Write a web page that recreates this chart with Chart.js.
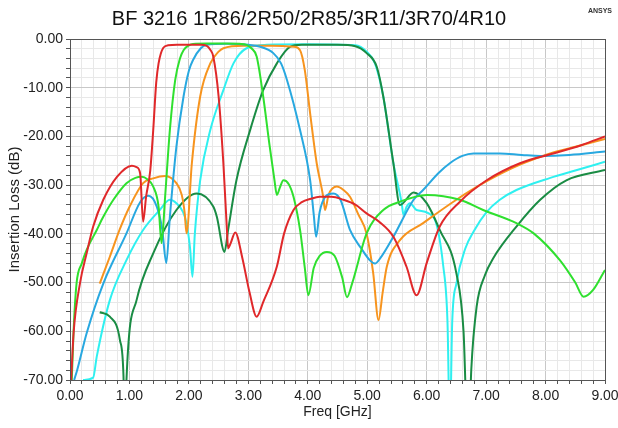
<!DOCTYPE html>
<html>
<head>
<meta charset="utf-8">
<script src="https://cdn.jsdelivr.net/npm/chart.js@4"></script>
<style>
  html, body { margin: 0; padding: 0; background: #fff; }
  #wrap { width: 618px; height: 428px; position: relative; }
</style>
</head>
<body>
<div id="wrap"><canvas id="chart"></canvas></div>
<script>
// insertion loss traces (GHz / dB)
const redFreq = [0.02, 0.06, 0.17, 0.28, 0.39, 0.56, 0.79, 1.04, 1.12, 1.18, 1.23, 1.28, 1.35, 1.40, 1.45, 1.49, 1.57, 1.65, 1.8, 2.0, 2.2, 2.3, 2.36, 2.41, 2.5, 2.58, 2.64, 2.66, 2.7, 2.78, 2.9, 3.02, 3.14, 3.25, 3.48, 3.6, 3.76, 3.9, 4.05, 4.2, 4.4, 4.6, 4.8, 4.99, 5.2, 5.44, 5.66, 5.83, 6.0, 6.22, 6.56, 7.01, 7.57, 8.13, 8.6, 9.0];
const redLoss = [-70, -60.4, -50, -44, -38.5, -33, -28.3, -26, -26.3, -27.6, -37.5, -32.4, -27, -18.7, -9, -5, -1.8, -1.3, -1.2, -1.2, -1.2, -1.4, -2.2, -3.6, -11.8, -25.5, -39.2, -43, -42, -39.7, -45, -52, -57, -54, -46.7, -40, -35.1, -33.5, -32.8, -32.4, -32.4, -33, -34, -35.8, -37.5, -40.6, -46.7, -52.6, -46, -38.5, -33.4, -29, -25.5, -23.5, -21.8, -20];

const greenFreq = [0.03, 0.06, 0.11, 0.2, 0.28, 0.45, 0.56, 0.73, 0.95, 1.1, 1.21, 1.3, 1.4, 1.49, 1.54, 1.6, 1.68, 1.77, 1.85, 1.91, 2.0, 2.07, 2.3, 2.6, 2.85, 2.97, 3.06, 3.14, 3.25, 3.36, 3.44, 3.48, 3.53, 3.59, 3.68, 3.76, 3.87, 3.95, 4.01, 4.1, 4.2, 4.32, 4.45, 4.58, 4.66, 4.75, 4.99, 5.27, 5.55, 6.0, 6.56, 6.95, 7.51, 7.8, 8.24, 8.5, 8.64, 8.8, 9.0];
const greenLoss = [-70, -60, -50.2, -46, -43.3, -39.2, -36.5, -33, -29.6, -28.5, -28.3, -28.8, -30.3, -34.4, -41.9, -32.4, -18.7, -8.4, -4, -2.3, -1.3, -1.0, -0.9, -0.9, -1.0, -1.2, -2, -3.6, -11.8, -22.1, -29, -32, -30.5, -29, -29.8, -32.4, -39.2, -47, -52.6, -47, -44.5, -43.7, -44.5, -49, -53, -50, -39.9, -35.1, -33.4, -32, -33, -35.1, -37.8, -39.9, -45.4, -50, -52.9, -51.5, -47.4];

const blueFreq = [0.07, 0.12, 0.28, 0.56, 0.95, 1.18, 1.32, 1.46, 1.55, 1.62, 1.68, 1.79, 1.91, 2.0, 2.07, 2.2, 2.3, 2.64, 3.0, 3.2, 3.42, 3.55, 3.65, 3.87, 4.04, 4.1, 4.14, 4.2, 4.3, 4.43, 4.55, 4.71, 4.9, 5.05, 5.13, 5.22, 5.44, 5.78, 5.94, 6.2, 6.39, 6.6, 6.79, 7.23, 7.6, 7.91, 8.4, 9.0];
const blueLoss = [-70, -68, -60.4, -50.2, -39.9, -33.5, -32.2, -34.4, -39, -46, -36.5, -22.1, -11.8, -6.5, -4.3, -1.9, -1.2, -1.0, -1.2, -1.6, -2.9, -5, -8.4, -18.7, -29, -36, -40.6, -35.5, -32.3, -31.7, -33, -39.2, -43, -45.5, -46.1, -45, -40.6, -33, -31, -27.5, -25.5, -24, -23.5, -23.5, -23.8, -24, -23.8, -23.1];

const orangeFreq = [0.5, 0.67, 0.84, 1.0, 1.23, 1.4, 1.6, 1.79, 1.88, 1.93, 1.96, 2.05, 2.19, 2.36, 2.5, 2.58, 2.92, 3.4, 3.76, 3.87, 3.95, 4.04, 4.15, 4.26, 4.29, 4.35, 4.49, 4.6, 4.71, 4.85, 4.99, 5.1, 5.19, 5.26, 5.33, 5.55, 5.94, 6.5, 7.01, 7.57, 8.13, 8.6, 9.0];
const orangeLoss = [-50.2, -44.7, -39, -34.5, -29.6, -28.6, -28.1, -29.6, -32, -35.8, -39.9, -25.5, -11.8, -5, -2.6, -1.9, -1.4, -1.4, -1.6, -2.3, -6.4, -15.3, -25.5, -32.4, -35.1, -32, -30.3, -31, -32.4, -36, -40, -48, -57.7, -52, -46.7, -41.3, -37.8, -33, -29.2, -25.8, -23.3, -21.8, -20.5];

const cyanFreq = [0.22, 0.39, 0.45, 0.67, 0.95, 1.23, 1.51, 1.68, 1.79, 1.9, 1.96, 2.02, 2.06, 2.1, 2.19, 2.36, 2.58, 2.75, 2.97, 3.31, 4.0, 4.8, 4.99, 5.13, 5.27, 5.44, 5.58, 5.61, 5.66, 5.72, 5.83, 6.11, 6.28, 6.35, 6.39, 6.43, 6.5, 6.65, 6.79, 7.01, 7.23, 7.51, 8.08, 8.5, 9.0];
const cyanLoss = [-70, -69.5, -65.2, -53.6, -45.4, -39.2, -35.1, -33, -33.7, -35.5, -37.8, -43, -48.8, -40, -29, -18.7, -10.5, -5, -1.9, -1.2, -1.1, -1.3, -2.6, -5, -11.8, -25.5, -33.7, -36.1, -34.5, -33.7, -35.1, -36.5, -46.7, -58, -80, -58, -50.2, -43, -39.5, -35.5, -33, -31, -28.5, -27, -25.2];

const dkgreenFreq = [0.5, 0.67, 0.84, 0.9, 0.925, 0.95, 1.12, 1.4, 1.79, 2.13, 2.41, 2.47, 2.6, 2.66, 2.8, 3.03, 3.25, 3.48, 3.7, 3.9, 4.5, 4.8, 4.99, 5.16, 5.27, 5.44, 5.55, 5.78, 6.0, 6.22, 6.5, 6.62, 6.7, 6.75, 6.84, 6.98, 7.12, 7.51, 7.91, 8.35, 9.0];
const dkgreenLoss = [-56.1, -57, -61.8, -69.3, -85, -70, -53.6, -44, -35.1, -31.7, -34.4, -36.5, -43.7, -39.2, -29, -18.7, -10.5, -5, -1.6, -1.2, -1.2, -1.5, -2.9, -5.7, -11.8, -25.5, -34.1, -31.5, -33.7, -39.2, -48.1, -60, -85, -68, -55, -48.5, -45, -38.5, -33, -29, -26.9];

const xTickLabels = ['0.00', '1.00', '2.00', '3.00', '4.00', '5.00', '6.00', '7.00', '8.00', '9.00'];
const yTickLabels = ['0.00', '-10.00', '-20.00', '-30.00', '-40.00', '-50.00', '-60.00', '-70.00'];

const FONT = '"Liberation Sans", Arial, sans-serif';

function pts(freq, loss) {
  return freq.map((f, i) => ({ x: f, y: loss[i] }));
}

function trace(label, color, freq, loss) {
  return {
    label: label,
    data: pts(freq, loss),
    borderColor: color,
    backgroundColor: color,
    borderWidth: 2,
    pointRadius: 0,
    cubicInterpolationMode: 'monotone',
    fill: false
  };
}

// box around the plot + the small logo text
const frame = {
  id: 'frame',
  afterDraw(chart) {
    const { ctx, chartArea: a } = chart;
    ctx.save();
    ctx.strokeStyle = '#555';
    ctx.lineWidth = 1;
    ctx.strokeRect(a.left + 0.5, a.top + 0.5, a.right - a.left, a.bottom - a.top);
    ctx.fillStyle = '#333';
    ctx.font = 'bold 7px ' + FONT;
    ctx.textAlign = 'right';
    ctx.fillText('ANSYS', 612, 13);
    ctx.restore();
  }
};

const isMajor = (v, step) => Math.abs(v / step - Math.round(v / step)) < 1e-6;

new Chart(document.getElementById('chart'), {
  type: 'line',
  data: {
    datasets: [
      trace('1R86', '#e0282a', redFreq, redLoss),
      trace('2R50', '#2fe02f', greenFreq, greenLoss),
      trace('2R85', '#28a8e0', blueFreq, blueLoss),
      trace('3R11', '#f7941e', orangeFreq, orangeLoss),
      trace('3R70', '#1a8c44', dkgreenFreq, dkgreenLoss),
      trace('4R10', '#2ff0f0', cyanFreq, cyanLoss)
    ]
  },
  options: {
    responsive: true,
    animation: false,
    maintainAspectRatio: false,
    layout: { padding: { left: 0, right: 0, top: 0, bottom: 0 } },
    plugins: {
      legend: { display: false },
      tooltip: { enabled: false },
      title: {
        display: true,
        text: 'BF 3216 1R86/2R50/2R85/3R11/3R70/4R10',
        color: '#111',
        font: { size: 20, family: FONT, weight: 'normal' },
        padding: { top: 7, bottom: 8 }
      }
    },
    scales: {
      x: {
        type: 'linear',
        min: 0,
        max: 9,
        afterFit(s) { s.height = 48; s.paddingRight = 13; },
        border: { color: '#555', width: 1 },
        grid: {
          color: c => isMajor(c.tick.value, 1) ? '#c8c8c8' : '#e8e8e8',
          tickColor: '#555',
          tickLength: 4
        },
        ticks: {
          stepSize: 0.2,
          autoSkip: false,
          maxRotation: 0,
          padding: 4,
          color: '#222',
          font: { size: 14, family: FONT },
          callback: v => isMajor(v, 1) ? xTickLabels[Math.round(v)] : ''
        },
        title: {
          display: true,
          text: 'Freq [GHz]',
          color: '#222',
          font: { size: 14, family: FONT },
          padding: { top: 7, bottom: 7 }
        }
      },
      y: {
        min: -70,
        max: 0,
        afterFit(s) { s.width = 70; },
        border: { color: '#555', width: 1 },
        grid: {
          color: c => isMajor(c.tick.value, 10) ? '#c8c8c8' : '#e8e8e8',
          tickColor: '#555',
          tickLength: 4
        },
        ticks: {
          stepSize: 2,
          autoSkip: false,
          padding: 3,
          color: '#222',
          font: { size: 14, family: FONT },
          callback: v => isMajor(v, 10) ? yTickLabels[Math.round(-v / 10)] : ''
        },
        title: {
          display: true,
          text: 'Insertion Loss (dB)',
          color: '#222',
          font: { size: 15, family: FONT },
          padding: { top: 6, bottom: 6 }
        }
      }
    }
  },
  plugins: [frame]
});
</script>
</body>
</html>
